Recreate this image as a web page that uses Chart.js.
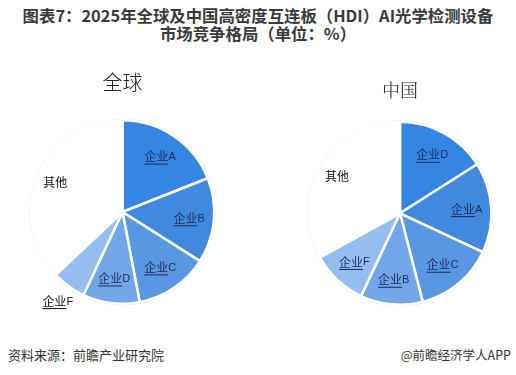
<!DOCTYPE html>
<html>
<head>
<meta charset="utf-8">
<script src="https://cdn.jsdelivr.net/npm/chart.js@4.4.1/dist/chart.umd.min.js"></script>
<style>
  html, body { margin: 0; padding: 0; background: #fff; }
  body { width: 516px; height: 375px; position: relative; overflow: hidden;
         font-family: "Noto Sans CJK SC", sans-serif; color: #333; }
  .title { position: absolute; left: 0; top: 6px; width: 516px; text-align: center;
           font-weight: bold; font-size: 16.4px; line-height: 18px; color: #3a3a3a; }
  .box { position: absolute; top: 60px; width: 246px; height: 265px; }
  #boxGlobal { left: 0; }
  #boxChina { left: 266px; }
  .foot { position: absolute; top: 345px; font-size: 13px; color: #333; }
  #src { left: 8px; }
  #app { right: 5px; font-size: 12.5px; }
</style>
</head>
<body>
<div class="title">图表7：2025年全球及中国高密度互连板（HDI）AI光学检测设备<br>市场竞争格局（单位：%）</div>
<div class="box" id="boxGlobal"><canvas id="globalChart"></canvas></div>
<div class="box" id="boxChina"><canvas id="chinaChart"></canvas></div>
<div class="foot" id="src">资料来源：前瞻产业研究院</div>
<div class="foot" id="app">@前瞻经济学人APP</div>
<script>
(() => {
  "use strict";

  // global market (share, %)
  const GLOBAL_LABELS = ["企业A", "企业B", "企业C", "企业D", "企业F", "其他"];
  const GLOBAL_VALUES = [19, 15, 13, 10, 6, 37];

  // China market (share, %)
  const CHINA_LABELS = ["企业D", "企业A", "企业C", "企业B", "企业F", "其他"];
  const CHINA_VALUES = [16, 16, 14, 11, 10, 33];

  const SLICE_COLORS = ["#3585e2", "#4189df", "#5a97e3", "#71a7e9", "#94bdf0", "#ffffff"];

  // grey rim under the white "其他" slice
  const rimPlugin = {
    id: "rim",
    beforeDatasetsDraw(chart) {
      const arc = chart.getDatasetMeta(0).data[0];
      if (!arc) return;
      const ctx = chart.ctx;
      ctx.save();
      ctx.beginPath();
      ctx.arc(arc.x, arc.y, arc.outerRadius, 0, Math.PI * 2);
      ctx.strokeStyle = "#e2e2e2";
      ctx.lineWidth = 3;
      ctx.stroke();
      ctx.restore();
    }
  };

  // slice labels: "企业" underlined + letter, "其他" plain
  const sliceLabelPlugin = {
    id: "sliceLabels",
    afterDatasetsDraw(chart, args, opts) {
      const ctx = chart.ctx;
      const meta = chart.getDatasetMeta(0);
      const labels = chart.data.labels;
      const outside = opts.outside || [];
      meta.data.forEach((arc, i) => {
        const p = arc.getProps(["x", "y", "startAngle", "endAngle", "outerRadius"], true);
        const mid = (p.startAngle + p.endAngle) / 2;
        const label = labels[i];
        const isOut = outside.includes(label);
        const f = isOut ? 1.2 : (label === "其他" ? 0.8 : 0.73);
        const cx = p.x + Math.cos(mid) * p.outerRadius * f;
        const cy = p.y + Math.sin(mid) * p.outerRadius * f;
        ctx.save();
        ctx.textBaseline = "middle";
        ctx.textAlign = "left";
        if (label.startsWith("企业")) {
          const head = "企业";
          const tail = label.slice(2);
          ctx.font = "12px 'Noto Sans CJK SC'";
          const w1 = ctx.measureText(head).width;
          ctx.font = "11px 'Liberation Sans'";
          const w2 = ctx.measureText(tail).width;
          const x0 = cx - (w1 + w2) / 2;
          ctx.fillStyle = isOut ? "#111" : "#1b2a5c";
          ctx.font = "12px 'Noto Sans CJK SC'";
          ctx.fillText(head, x0, cy);
          ctx.font = "11px 'Liberation Sans'";
          ctx.fillText(tail, x0 + w1, cy + 0.5);
          ctx.fillRect(x0, cy + 7, w1, 1);
        } else {
          ctx.font = "12px 'Noto Sans CJK SC'";
          ctx.fillStyle = "#111";
          ctx.textAlign = "center";
          ctx.fillText(label, cx, cy);
        }
        ctx.restore();
      });
    }
  };

  function makePie(canvasId, labels, values, title, titleOpts, padding, outside) {
    return new Chart(document.getElementById(canvasId), {
      type: "pie",
      data: {
        labels,
        datasets: [{
          data: values,
          backgroundColor: SLICE_COLORS,
          borderColor: "#ffffff",
          borderWidth: 2.5
        }]
      },
      options: {
        responsive: true,
        maintainAspectRatio: false,
        animation: false,
        layout: { padding },
        plugins: {
          legend: { display: false },
          tooltip: { enabled: false },
          title: {
            display: true,
            text: title,
            color: "#222",
            font: titleOpts.font,
            padding: titleOpts.padding
          },
          sliceLabels: { outside }
        }
      },
      plugins: [rimPlugin, sliceLabelPlugin]
    });
  }

  makePie("globalChart", GLOBAL_LABELS, GLOBAL_VALUES, "全球",
    { font: { family: "'Noto Sans CJK SC'", size: 20, weight: "300" }, padding: { top: 10, bottom: 25 } },
    { left: 29, right: 30, top: 0, bottom: 20 },
    ["企业F"]);

  // box shifted 4px left so the title sits at x≈396; pie kept at x≈400
  makePie("chinaChart", CHINA_LABELS, CHINA_VALUES, "中国",
    { font: { family: "'Noto Serif CJK SC', 'Noto Sans CJK SC'", size: 18, weight: "300" }, padding: { top: 19, bottom: 20 } },
    { left: 41, right: 19, top: 0, bottom: 19 },
    []);
})();
</script>
</body>
</html>
